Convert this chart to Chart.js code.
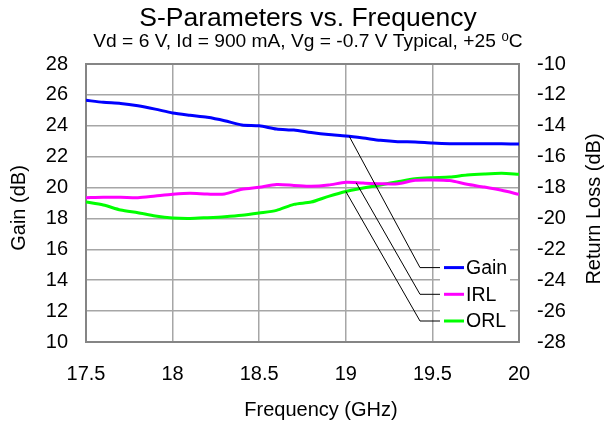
<!DOCTYPE html>
<html>
<head>
<meta charset="utf-8">
<script src="https://cdn.jsdelivr.net/npm/chart.js@4.4.1/dist/chart.umd.min.js"></script>
<style>
  html, body { margin: 0; padding: 0; background: #fff; }
  #wrap { width: 604px; height: 426px; }
</style>
</head>
<body>
<div id="wrap"><canvas id="spChart" width="604" height="426"></canvas></div>
<script>
// ---- values ----
const freqGHz = [17.5, 17.6, 17.7, 17.8, 17.9, 18.0, 18.1, 18.2, 18.3, 18.4, 18.5, 18.6, 18.7,
                 18.8, 18.9, 19.0, 19.1, 19.2, 19.3, 19.4, 19.5, 19.6, 19.7, 19.8, 19.9, 20.0];
// gain on the left axis (dB)
const gainDb = [25.65, 25.52, 25.45, 25.30, 25.08, 24.83, 24.68, 24.55, 24.33, 24.05, 24.00, 23.79, 23.72,
                23.56, 23.43, 23.34, 23.21, 23.06, 22.97, 22.95, 22.88, 22.84, 22.84, 22.83, 22.83, 22.82];
// return losses on the right axis (dB)
const irlDb = [-18.66, -18.63, -18.63, -18.66, -18.55, -18.44, -18.37, -18.42, -18.42, -18.11, -17.98, -17.81, -17.86,
               -17.92, -17.84, -17.66, -17.71, -17.75, -17.75, -17.53, -17.51, -17.55, -17.79, -17.97, -18.18, -18.44];
const orlDb = [-18.94, -19.13, -19.45, -19.63, -19.84, -19.97, -20.00, -19.95, -19.89, -19.80, -19.65, -19.48, -19.09,
               -18.94, -18.57, -18.25, -18.03, -17.83, -17.62, -17.43, -17.36, -17.32, -17.19, -17.12, -17.08, -17.14];

const xTickValues = [17.5, 18, 18.5, 19, 19.5, 20];
const xTickLabels = ['17.5', '18', '18.5', '19', '19.5', '20'];
const gainTicks = [10, 12, 14, 16, 18, 20, 22, 24, 26, 28];
const rlTicks = [-28, -26, -24, -22, -20, -18, -16, -14, -12, -10];

const seriesNames = ['Gain', 'IRL', 'ORL'];
const seriesColors = ['#0000ff', '#ff00ff', '#00ff00'];
const leaderFreq = [19.02, 19.06, 19.0]; // where each callout line leaves its curve

const FONT = "'Liberation Sans', Arial, 'DejaVu Sans', sans-serif";

function toPoints(vals) {
    return freqGHz.map((f, i) => ({ x: f, y: vals[i] }));
}

// linear interpolation of a series at frequency f
function valueAt(vals, f) {
    for (let i = 0; i < freqGHz.length - 1; i++) {
        if (f >= freqGHz[i] && f <= freqGHz[i + 1]) {
            const t = (f - freqGHz[i]) / (freqGHz[i + 1] - freqGHz[i]);
            return vals[i] + t * (vals[i + 1] - vals[i]);
        }
    }
    return vals[vals.length - 1];
}

const fixedTicks = (vals) => (scale) => { scale.ticks = vals.map(v => ({ value: v })); };

// frame, callout legend, titles
const decorPlugin = {
    id: 'decor',
    beforeDatasetsDraw(chart) {
        const { ctx, chartArea: a } = chart;
        ctx.save();
        ctx.strokeStyle = '#858585';
        ctx.lineWidth = 2;
        ctx.strokeRect(a.left, a.top, a.right - a.left, a.bottom - a.top);
        ctx.restore();
    },
    afterDatasetsDraw(chart) {
        const { ctx, chartArea: a, scales } = chart;
        const elbowX = a.right - 99;
        const boxL = elbowX + 20, boxR = a.right - 9;
        ctx.save();
        // white legend box hides the grid behind it
        ctx.fillStyle = '#ffffff';
        ctx.fillRect(boxL, a.bottom - 97, boxR - boxL, 93);

        chart.data.datasets.forEach((ds, i) => {
            const vals = ds.data.map(p => p.y);
            const sx = scales.x.getPixelForValue(leaderFreq[i]);
            const sy = scales[ds.yAxisID].getPixelForValue(valueAt(vals, leaderFreq[i]));
            const rowY = a.bottom - 21 - (2 - i) * 26.7;
            // callout line
            ctx.strokeStyle = '#000';
            ctx.lineWidth = 1;
            ctx.beginPath();
            ctx.moveTo(sx, sy);
            ctx.lineTo(elbowX, rowY);
            ctx.lineTo(boxL, rowY);
            ctx.stroke();
            // sample line
            ctx.strokeStyle = ds.borderColor;
            ctx.lineWidth = 3;
            ctx.beginPath();
            ctx.moveTo(boxL + 4, rowY);
            ctx.lineTo(boxL + 24, rowY);
            ctx.stroke();
            // label
            ctx.fillStyle = '#000';
            ctx.font = '19.5px ' + FONT;
            ctx.textAlign = 'left';
            ctx.textBaseline = 'middle';
            ctx.fillText(ds.label, boxL + 26, rowY + 1);
        });
        ctx.restore();
    },
    afterDraw(chart) {
        const { ctx, chartArea: a } = chart;
        const midY = (a.top + a.bottom) / 2;
        ctx.save();
        ctx.fillStyle = '#000';
        ctx.textAlign = 'center';
        ctx.textBaseline = 'alphabetic';
        ctx.font = '26.5px ' + FONT;
        ctx.fillText('S-Parameters vs. Frequency', 308, 26);
        ctx.font = '19.2px ' + FONT;
        ctx.fillText('Vd = 6 V, Id = 900 mA, Vg = -0.7 V Typical, +25 \u2070C', 308, 47);
        ctx.font = '20px ' + FONT;
        ctx.fillText('Frequency (GHz)', 321, 416);
        // vertical axis titles, both read bottom to top
        ctx.translate(25, midY + 5);
        ctx.rotate(-Math.PI / 2);
        ctx.fillText('Gain (dB)', 0, 0);
        ctx.setTransform(1, 0, 0, 1, 0, 0);
        ctx.translate(600, midY + 6);
        ctx.rotate(-Math.PI / 2);
        ctx.fillText('Return Loss (dB)', 0, 0);
        ctx.restore();
    }
};

const gridStyle = { color: '#a6a6a6', lineWidth: 1.5, drawTicks: false };
const tickFont = { family: FONT, size: 20 };

const ctx = document.getElementById('spChart').getContext('2d');
new Chart(ctx, {
    type: 'line',
    data: {
        datasets: [
            { label: seriesNames[0], data: toPoints(gainDb), yAxisID: 'y', borderColor: seriesColors[0] },
            { label: seriesNames[1], data: toPoints(irlDb), yAxisID: 'y2', borderColor: seriesColors[1] },
            { label: seriesNames[2], data: toPoints(orlDb), yAxisID: 'y2', borderColor: seriesColors[2] }
        ]
    },
    options: {
        responsive: false,
        animation: false,
        layout: { padding: { top: 64, left: 0, right: 0, bottom: 0 } },
        elements: {
            line: { borderWidth: 3, tension: 0.25, fill: false },
            point: { radius: 0 }
        },
        plugins: {
            legend: { display: false },
            title: { display: false },
            tooltip: { enabled: false }
        },
        scales: {
            x: {
                type: 'linear',
                min: 17.5,
                max: 20,
                afterBuildTicks: fixedTicks(xTickValues),
                afterFit: s => { s.height = 84; },
                grid: gridStyle,
                border: { display: false },
                ticks: {
                    font: tickFont, color: '#000', padding: 20, maxRotation: 0, autoSkip: false,
                    callback: (v, i) => xTickLabels[i]
                }
            },
            y: {
                position: 'left',
                min: 10,
                max: 28,
                afterBuildTicks: fixedTicks(gainTicks),
                afterFit: s => { s.width = 86; },
                grid: gridStyle,
                border: { display: false },
                ticks: { font: tickFont, color: '#000', padding: 18, autoSkip: false }
            },
            y2: {
                position: 'right',
                min: -28,
                max: -10,
                afterBuildTicks: fixedTicks(rlTicks),
                afterFit: s => { s.width = 85; },
                grid: { display: false, drawTicks: false },
                border: { display: false },
                ticks: { font: tickFont, color: '#000', padding: 18, autoSkip: false }
            }
        }
    },
    plugins: [decorPlugin]
});
</script>
</body>
</html>
